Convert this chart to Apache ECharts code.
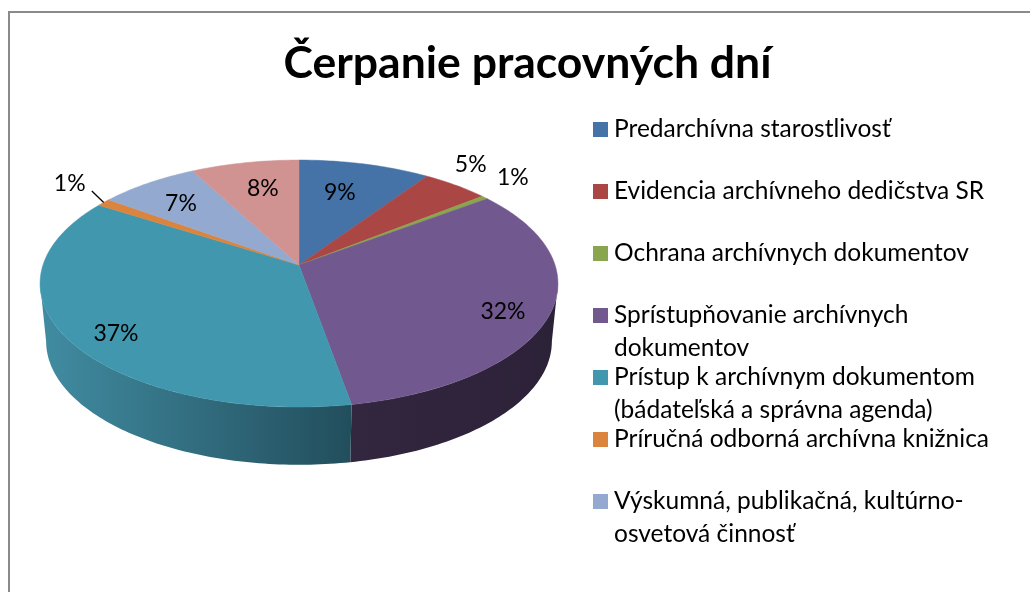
<!DOCTYPE html>
<html>
<head>
<meta charset="utf-8">
<style>html,body{margin:0;padding:0;background:#fff}#c{width:1030px;height:592px}</style>
<script src="https://cdn.jsdelivr.net/npm/echarts@6/dist/echarts.min.js"></script>
</head>
<body>
<div id="c"></div>
<script>
const titleText = 'Čerpanie pracovných dní';
const categories = [
  'Predarchívna starostlivosť',
  'Evidencia archívneho dedičstva SR',
  'Ochrana archívnych dokumentov',
  'Sprístupňovanie archívnych\ndokumentov',
  'Prístup k archívnym dokumentom\n(bádateľská a správna agenda)',
  'Príručná odborná archívna knižnica',
  'Výskumná, publikačná, kultúrno-\nosvetová činnosť',
  'Ostatné'
];
const shares = [9.49, 4.81, 0.5, 32.4, 36.8, 1.0, 7.2, 7.8];
const legendCount = 7;

const faceColors = ['#4573A7','#AA4644','#89A54E','#71588F','#4197AE','#DB843D','#93A9CF','#D19392'];
const wallFrom = ['#2f4f73','#752f2e','#5e7135','#33263F','#418CA2','#96592a','#65748e','#8f6564'];
const wallTo   = ['#2f4f73','#752f2e','#5e7135','#2C2238','#224E5C','#96592a','#65748e','#8f6564'];
const labelOffsets = [[-25,28],[15,-21],[28,-19.5],[-48,0],[49,-5],[-34,-19],[33,20],[18,26]];
const leaderLine = [false,false,false,false,false,true,false,false];

// perspective of the pie disc
const FONT = 'Lato, Carlito, sans-serif';
const apex = [299, 265];
const persp = -0.15;
const topFace = {R:256, A:120.7, dy:0};
const botFace = {R:250, A:120.5, dy:58};
const silhouette = Math.acos(persp) * 180 / Math.PI; // angle where the rim turns away

function project(deg, face){
  const t = deg * Math.PI / 180, u = Math.sin(t), v = -Math.cos(t), d = 1 + persp * v;
  return [apex[0] + face.R * u / d, apex[1] + face.dy + face.A * v / d];
}
function arc(a, b, face){
  const pts = [], n = Math.max(2, Math.ceil(Math.abs(b - a)));
  for (let i = 0; i <= n; i++) pts.push(project(a + (b - a) * i / n, face));
  return pts;
}

const total = shares.reduce((s, x) => s + x, 0);
let running = 0;
const series = categories.map((name, i) => {
  const start = running / total * 360;
  running += shares[i];
  const end = running / total * 360;
  return {
    type: 'custom',
    name,
    coordinateSystem: 'none',
    silent: true,
    animation: false,
    itemStyle: {color: faceColors[i]},
    data: [[start, end, shares[i]]],
    renderItem: (params, api) => {
      const s = api.value(0), e = api.value(1), children = [];
      const ws = Math.max(s, silhouette), we = Math.min(e, 360 - silhouette);
      if (we > ws) {
        children.push({
          type: 'polygon', z2: 1,
          shape: {points: arc(ws, we, topFace).concat(arc(we, ws, botFace))},
          style: {
            fill: new echarts.graphic.LinearGradient(0, 0, 1, 0, [
              {offset: 0, color: wallFrom[i]}, {offset: 1, color: wallTo[i]}
            ])
          }
        });
      }
      children.push({
        type: 'polygon', z2: 2,
        shape: {points: [apex].concat(arc(s, e, topFace))},
        style: {fill: faceColors[i], stroke: faceColors[i], lineWidth: 0.5}
      });
      const rim = project((s + e) / 2, topFace);
      const off = labelOffsets[i];
      children.push({
        type: 'text', z2: 5,
        x: rim[0] + off[0], y: rim[1] + off[1],
        style: {
          text: Math.round(api.value(2)) + '%',
          font: '23px ' + FONT, fill: '#000', align: 'center', verticalAlign: 'middle'
        }
      });
      if (leaderLine[i]) {
        children.push({
          type: 'line', z2: 4,
          shape: {x1: rim[0], y1: rim[1], x2: rim[0] + off[0] * 0.35, y2: rim[1] + off[1] * 0.6},
          style: {stroke: '#000', lineWidth: 1.3}
        });
      }
      return {type: 'group', children};
    }
  };
});

const chart = echarts.init(document.getElementById('c'), null, {renderer: 'canvas'});
chart.setOption({
  animation: false,
  backgroundColor: '#fff',
  title: {
    text: titleText, left: 522.5, top: 36, textAlign: 'center',
    textStyle: {fontFamily: FONT, fontWeight: 'bold', fontSize: 44.5, color: '#000'}
  },
  legend: {
    orient: 'vertical', left: 593, top: 80,
    icon: 'rect', itemWidth: 15, itemHeight: 15, itemGap: -37, padding: 0,
    selectedMode: false,
    data: categories.slice(0, legendCount),
    formatter: n => {
      const p = n.split('\n');
      return '\n' + p[0] + '\n' + (p[1] || ' ');
    },
    textStyle: {fontFamily: FONT, fontSize: 24.5, lineHeight: 33, color: '#000', padding: [0,0,0,1]}
  },
  graphic: [{
    type: 'rect', z: -1, silent: true,
    shape: {x: 9, y: 12, width: 1100, height: 700},
    style: {fill: '#fff', stroke: '#8a8a8a', lineWidth: 2}
  }],
  series
});
</script>
</body>
</html>
